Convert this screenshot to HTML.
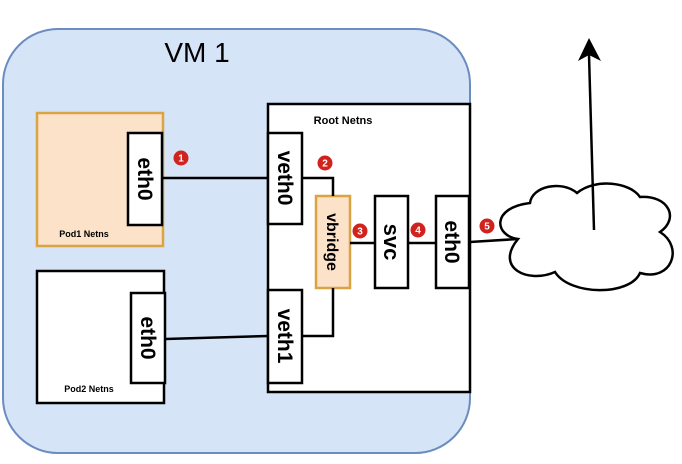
<!DOCTYPE html>
<html><head><meta charset="utf-8"><style>
html,body{margin:0;padding:0;background:#fff;}
svg{display:block;}
text{font-family:"Liberation Sans",Arial,sans-serif;font-weight:bold;fill:#000;}
</style></head><body>
<svg width="682" height="464" viewBox="0 0 682 464" xmlns="http://www.w3.org/2000/svg">
<rect x="3" y="29" width="467" height="424" rx="55" ry="55" fill="#d6e4f8" stroke="#6b8cbf" stroke-width="2"/>
<text x="197" y="62" font-size="28" text-anchor="middle" style="font-weight:normal">VM 1</text>

<!-- Pod1 -->
<rect x="37" y="113" width="126" height="133" fill="#fbe2c8" stroke="#d9a441" stroke-width="2.5"/>
<text x="84" y="237" font-size="9" text-anchor="middle">Pod1 Netns</text>
<rect x="128" y="133" width="34" height="92" fill="#fff" stroke="#000" stroke-width="2.5"/>
<text transform="translate(138,179) rotate(90)" font-size="21" text-anchor="middle">eth0</text>

<!-- Pod2 -->
<rect x="37" y="271" width="127" height="132" fill="#fff" stroke="#000" stroke-width="2.5"/>
<text x="89" y="392" font-size="9" text-anchor="middle">Pod2 Netns</text>
<rect x="131" y="293" width="34" height="90" fill="#fff" stroke="#000" stroke-width="2.5"/>
<text transform="translate(141,338) rotate(90)" font-size="21" text-anchor="middle">eth0</text>

<!-- Root -->
<rect x="268" y="104" width="202" height="288" fill="#fff" stroke="#000" stroke-width="2.5"/>
<text x="343" y="124" font-size="11" text-anchor="middle">Root Netns</text>
<rect x="268" y="133" width="34" height="91" fill="#fff" stroke="#000" stroke-width="2.5"/>
<text transform="translate(278,178) rotate(90)" font-size="21" text-anchor="middle">veth0</text>
<rect x="268" y="290" width="34" height="93" fill="#fff" stroke="#000" stroke-width="2.5"/>
<text transform="translate(278,336) rotate(90)" font-size="21" text-anchor="middle">veth1</text>
<rect x="316" y="196" width="34" height="92" fill="#fbe2c8" stroke="#d9a441" stroke-width="2.5"/>
<text transform="translate(327,242) rotate(90)" font-size="16" text-anchor="middle">vbridge</text>
<rect x="375" y="196" width="33" height="92" fill="#fff" stroke="#000" stroke-width="2.5"/>
<text transform="translate(384,242) rotate(90)" font-size="22" text-anchor="middle">svc</text>
<rect x="436" y="196" width="33" height="92" fill="#fff" stroke="#000" stroke-width="2.5"/>
<text transform="translate(445,242) rotate(90)" font-size="21" text-anchor="middle">eth0</text>

<!-- lines -->
<g stroke="#000" stroke-width="2.5" fill="none">
<line x1="163" y1="178" x2="268" y2="178"/>
<polyline points="302,178 333,178 333,196"/>
<polyline points="333,288 333,336 302,336"/>
<line x1="165" y1="339" x2="268" y2="336"/>
<line x1="350" y1="243" x2="375" y2="243"/>
<line x1="408" y1="243" x2="436" y2="243"/>
<line x1="470" y1="242" x2="518" y2="239"/>
</g>

<!-- cloud -->
<path d="M518 239 C495 236,490 208,530 203 C532 186,562 180,577 193 C595 178,630 182,640 197 C668 195,680 218,660 232 C684 247,672 282,640 273 C630 296,570 296,555 272 C528 284,494 268,518 239 Z" fill="#fff" stroke="#000" stroke-width="2.5"/>
<line x1="594" y1="230" x2="589" y2="55" stroke="#000" stroke-width="2.5"/>
<polygon points="589,38 578,61 589,55 601,61" fill="#000"/>

<!-- badges -->
<g font-size="10" text-anchor="middle">
<circle cx="181" cy="158" r="7.5" fill="#d0231e"/><text x="181" y="161.5" style="fill:#fff">1</text>
<circle cx="325" cy="163" r="7.5" fill="#d0231e"/><text x="325" y="166.5" style="fill:#fff">2</text>
<circle cx="360" cy="231" r="7.5" fill="#d0231e"/><text x="360" y="234.5" style="fill:#fff">3</text>
<circle cx="418" cy="230" r="7.5" fill="#d0231e"/><text x="418" y="233.5" style="fill:#fff">4</text>
<circle cx="487" cy="226" r="7.5" fill="#d0231e"/><text x="487" y="229.5" style="fill:#fff">5</text>
</g>
</svg>
</body></html>
